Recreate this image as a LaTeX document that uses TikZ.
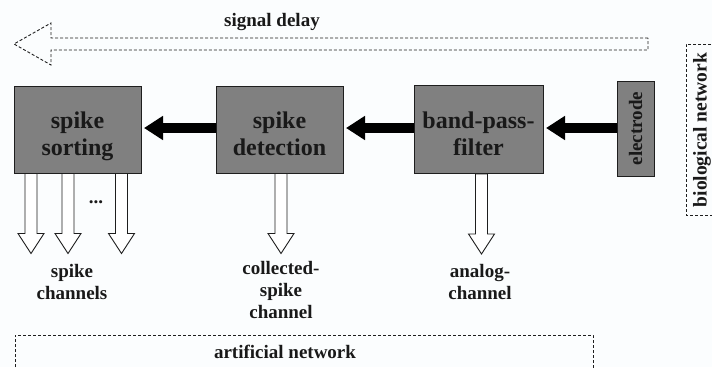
\documentclass[tikz,border=0pt]{standalone}
\usepackage{fontspec}
\setmainfont{Liberation Serif}
\usetikzlibrary{arrows.meta}
\definecolor{bg}{RGB}{251,253,254}
\definecolor{boxgray}{RGB}{128,128,128}
\definecolor{edge}{RGB}{30,30,30}
\begin{document}
\begin{tikzpicture}[x=1pt,y=-1pt,
  blk/.style={draw=edge, line width=1pt, fill=boxgray, inner sep=0pt},
  boxtxt/.style={font=\fontsize{24}{27}\selectfont\bfseries, align=center, inner sep=0pt, anchor=north, text=black!90},
  lbl/.style={font=\fontsize{19}{22}\selectfont\bfseries, align=center, inner sep=0pt, text=black!90},
  dsh/.style={draw=edge, line width=0.9pt, dash pattern=on 3pt off 2pt},
  hollow/.style={draw=edge, line width=0.9pt, fill=white, line join=miter},
  solidarrow/.style={line width=10pt, draw=black, -{Triangle[length=19pt,width=23pt]}, shorten >=2.5pt}
]
\useasboundingbox[fill=bg] (0,0) rectangle (712,367);

% signal delay arrow
\draw[dsh] (648,38) -- (51,38) -- (51,23) -- (14,44) -- (51,65) -- (51,50) -- (648,50) -- cycle;
\node[lbl, anchor=base] (sd) at (272,26) {signal delay};

% boxes
\node[blk, minimum width=127pt, minimum height=87pt] (sort) at (77.5,129.5) {};
\node[blk, minimum width=127pt, minimum height=87pt] (det) at (279.5,129.5) {};
\node[blk, minimum width=129pt, minimum height=88pt] (bpf) at (478.5,129.5) {};
\node[blk, minimum width=37pt, minimum height=95pt] (elec) at (635.5,128.5) {};

\node[boxtxt] (sortT) at (77.5,112) {spike\\sorting};
\node[boxtxt] (detT) at (279.5,112) {spike\\detection};
\node[boxtxt] (bpfT) at (478.5,112) {band-pass-\\filter};
\node[lbl, rotate=90] (elT) at (elec.center) {electrode};

% solid arrows
\draw[solidarrow] ([yshift=0.5pt]elec.west) -- ([yshift=1.5pt]bpf.east);
\draw[solidarrow] ([yshift=1.5pt]bpf.west) -- ([yshift=1.5pt]det.east);
\draw[solidarrow] ([yshift=1.5pt]det.west) -- ([yshift=1.5pt]sort.east);

% hollow down arrows
\coordinate (o1) at ([xshift=-46.5pt]sort.south);
\coordinate (o2) at ([xshift=-9.5pt]sort.south);
\coordinate (o3) at ([xshift=44pt]sort.south);
\coordinate (o4) at ([xshift=1.5pt]det.south);
\coordinate (o5) at ([xshift=3pt]bpf.south);
\foreach \o in {o1,o2,o3,o4,o5}{
  \draw[hollow] (\o) ++(-6,0) -- ++(12,0) -- ++(0,60) -- ++(7,0) -- ++(-13,20) -- ++(-13,-20) -- ++(7,0) -- cycle;
}
\node[lbl, anchor=base] (dots) at (96,203) {...};

% labels
\node[lbl, anchor=north] (sc) at (72,264) {spike\\channels};
\node[lbl, anchor=north] (csc) at (281,261) {collected-\\spike\\channel};
\node[lbl, anchor=north] (ac) at (480,264) {analog-\\channel};

% artificial network
\draw[dsh] (15,372) -- (15,335) -- (593,335) -- (593,372);
\node[lbl, anchor=base] (an) at (285,358) {artificial network};

% biological network
\draw[dsh] (716,44) -- (686,44) -- (686,215) -- (716,215);
\node[font=\fontsize{19.5}{22}\selectfont\bfseries, rotate=90, inner sep=0pt, text=black!90] (bn) at (702,130) {biological network};
\end{tikzpicture}
\end{document}
